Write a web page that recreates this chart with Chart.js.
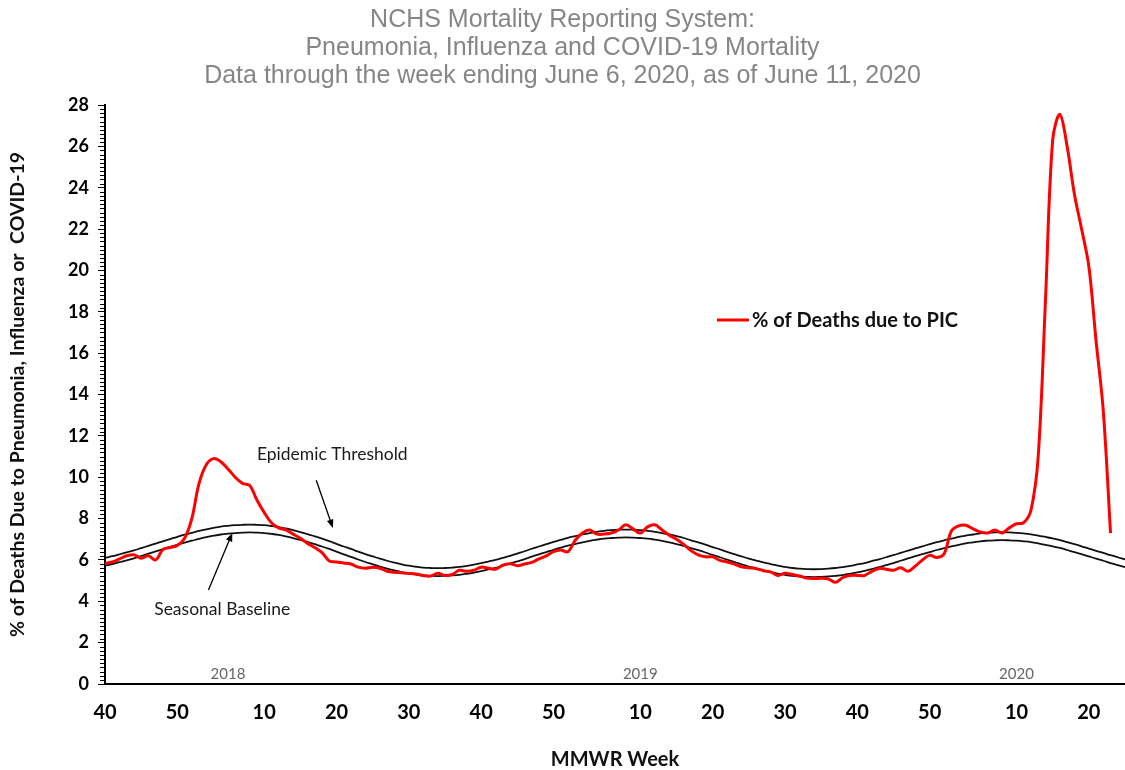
<!DOCTYPE html>
<html>
<head>
<meta charset="utf-8">
<title>NCHS Mortality Reporting System</title>
<script src="https://cdn.jsdelivr.net/npm/chart.js@4.4.0/dist/chart.umd.min.js"></script>
<style>
  html, body { margin: 0; padding: 0; background: #fff; }
  #wrap { width: 1125px; height: 770px; position: relative; }
</style>
</head>
<body>
<div id="wrap"><canvas id="picChart"></canvas></div>
<script>
// MMWR weeks shown on the axis: 2017 wk 40 .. 2020 wk 25
const seasons = [
  [2017, 40, 52],
  [2018, 1, 52],
  [2019, 1, 52],
  [2020, 1, 25]
]
const weeks = []
const weekYears = []
seasons.forEach(([yr, from, to]) => {
  for (let w = from; w <= to; w++) { weeks.push(w); weekYears.push(yr) }
})

// % of deaths due to PIC (ends 2020 wk 23)
const picPercent = [
  5.84, 5.90, 6.05, 6.20, 6.25, 6.08, 6.20, 6.00, 6.50, 6.60,
  6.70, 7.05, 8.00, 9.70, 10.60, 10.90, 10.75, 10.40, 10.00, 9.70,
  9.60, 8.90, 8.30, 7.80, 7.55, 7.45, 7.25, 7.05, 6.80, 6.60,
  6.35, 5.95, 5.90, 5.85, 5.80, 5.65, 5.60, 5.65, 5.60, 5.45,
  5.40, 5.38, 5.35, 5.32, 5.25, 5.22, 5.35, 5.25, 5.30, 5.50,
  5.45, 5.50, 5.65, 5.60, 5.55, 5.75, 5.82, 5.72, 5.80, 5.88,
  6.05, 6.20, 6.40, 6.48, 6.40, 6.95, 7.30, 7.45, 7.25, 7.25,
  7.30, 7.45, 7.70, 7.50, 7.30, 7.60, 7.70, 7.45, 7.20, 7.00,
  6.75, 6.45, 6.25, 6.15, 6.15, 5.98, 5.90, 5.80, 5.67, 5.62,
  5.58, 5.48, 5.42, 5.25, 5.35, 5.30, 5.22, 5.12, 5.10, 5.11,
  5.08, 4.92, 5.15, 5.25, 5.25, 5.25, 5.45, 5.59, 5.55, 5.50,
  5.62, 5.45, 5.70, 6.00, 6.22, 6.12, 6.30, 7.40, 7.65, 7.68,
  7.50, 7.35, 7.30, 7.45, 7.30, 7.55, 7.75, 7.80, 8.40, 11.00,
  18.50, 26.30, 27.55, 26.00, 23.70, 22.00, 20.20, 16.60, 13.20, 7.30
]

const seasonalBaseline = [
  5.72, 5.80, 5.89, 5.98, 6.08, 6.19, 6.30, 6.41, 6.52, 6.63, 6.74, 6.84, 6.93, 7.02, 7.10, 7.17, 7.23, 7.27, 7.30, 7.32, 7.33,
  7.32, 7.30, 7.26, 7.21, 7.14, 7.06, 6.97, 6.87, 6.76, 6.65, 6.53, 6.40, 6.27, 6.15, 6.02, 5.90, 5.79, 5.68, 5.58, 5.49, 5.41, 5.34, 5.29, 5.25, 5.23, 5.22,
  5.23, 5.25, 5.28, 5.33, 5.39, 5.46, 5.54, 5.62, 5.72, 5.82, 5.93, 6.04, 6.16, 6.27, 6.38, 6.49, 6.59, 6.69, 6.77, 6.85, 6.92, 6.98, 7.03, 7.06, 7.08, 7.09,
  7.08, 7.06, 7.03, 6.98, 6.92, 6.85, 6.77, 6.68, 6.57, 6.47, 6.36, 6.24, 6.13, 6.01, 5.90, 5.79, 5.68, 5.59, 5.50, 5.42, 5.34, 5.28, 5.23, 5.20, 5.18, 5.17,
  5.18, 5.20, 5.23, 5.27, 5.33, 5.40, 5.47, 5.56, 5.65, 5.75, 5.85, 5.96, 6.07, 6.18, 6.28, 6.38, 6.48, 6.57, 6.65, 6.73, 6.80, 6.85, 6.90, 6.93, 6.95, 6.96,
  6.95, 6.93, 6.90, 6.86, 6.80, 6.73, 6.66, 6.58, 6.48, 6.38, 6.28, 6.17, 6.06, 5.96, 5.85, 5.75, 5.65
]

const epidemicThreshold = [
  6.10, 6.18, 6.27, 6.36, 6.46, 6.57, 6.68, 6.79, 6.90, 7.01, 7.12, 7.22, 7.31, 7.40, 7.48, 7.55, 7.61, 7.65, 7.68, 7.70, 7.71,
  7.70, 7.68, 7.64, 7.59, 7.52, 7.44, 7.35, 7.25, 7.14, 7.03, 6.91, 6.78, 6.65, 6.53, 6.40, 6.28, 6.17, 6.06, 5.96, 5.87, 5.79, 5.72, 5.67, 5.63, 5.61, 5.60,
  5.61, 5.63, 5.66, 5.71, 5.77, 5.84, 5.92, 6.00, 6.10, 6.20, 6.31, 6.42, 6.54, 6.65, 6.76, 6.87, 6.97, 7.07, 7.15, 7.23, 7.30, 7.36, 7.41, 7.44, 7.46, 7.47,
  7.46, 7.44, 7.41, 7.36, 7.30, 7.23, 7.15, 7.06, 6.95, 6.85, 6.74, 6.62, 6.51, 6.39, 6.28, 6.17, 6.06, 5.97, 5.88, 5.80, 5.72, 5.66, 5.61, 5.58, 5.56, 5.55,
  5.56, 5.58, 5.61, 5.65, 5.71, 5.78, 5.85, 5.94, 6.03, 6.13, 6.23, 6.34, 6.45, 6.56, 6.66, 6.76, 6.86, 6.95, 7.03, 7.11, 7.18, 7.23, 7.28, 7.31, 7.33, 7.34,
  7.33, 7.31, 7.28, 7.24, 7.18, 7.11, 7.04, 6.96, 6.86, 6.76, 6.66, 6.55, 6.44, 6.34, 6.23, 6.13, 6.03
]

// year captions sit above these weeks
const yearMarkers = [[2018, 5], [2019, 10], [2020, 10]]

const titleLines = [
  'NCHS Mortality Reporting System:',
  'Pneumonia, Influenza and COVID-19 Mortality',
  'Data through the week ending June 6, 2020, as of June 11, 2020'
]

// callouts, placed in data space: [week index, value]
const callouts = [
  { text: 'Epidemic Threshold', at: [21, 11.1], tail: [29.2, 9.85], tip: [31.5, 7.55] },
  { text: 'Seasonal Baseline', at: [6.8, 3.63], tail: [14.3, 4.55], tip: [17.6, 7.3] }
]

function arrow(ctx, x1, y1, x2, y2) {
  const a = Math.atan2(y2 - y1, x2 - x1)
  const h = 9
  ctx.beginPath()
  ctx.moveTo(x1, y1)
  ctx.lineTo(x2 - Math.cos(a) * 6, y2 - Math.sin(a) * 6)
  ctx.stroke()
  ctx.beginPath()
  ctx.moveTo(x2, y2)
  ctx.lineTo(x2 - h * Math.cos(a - 0.38), y2 - h * Math.sin(a - 0.38))
  ctx.lineTo(x2 - h * Math.cos(a + 0.38), y2 - h * Math.sin(a + 0.38))
  ctx.closePath()
  ctx.fill()
}

const extras = {
  id: 'extras',
  afterDraw(chart) {
    const { ctx, chartArea } = chart
    const x = chart.scales.x
    const y = chart.scales.y
    ctx.save()

    // minor ticks on the value axis
    ctx.strokeStyle = '#000'
    ctx.lineWidth = 1
    for (let k = 0; k <= 140; k++) {
      if (k % 10 === 0) continue
      const py = Math.round(y.getPixelForValue(k / 5)) + 0.5
      ctx.beginPath()
      ctx.moveTo(chartArea.left - 5, py)
      ctx.lineTo(chartArea.left, py)
      ctx.stroke()
    }

    // year captions
    ctx.fillStyle = '#666'
    ctx.font = '15px Lato'
    ctx.textAlign = 'center'
    ctx.textBaseline = 'alphabetic'
    yearMarkers.forEach(([yr, wk]) => {
      const idx = weekYears.findIndex((v, i) => v === yr && weeks[i] === wk)
      ctx.fillText(String(yr), x.getPixelForValue(idx), chartArea.bottom - 5)
    })

    // legend
    const lx = chartArea.left + 612
    const ly = chartArea.top + 215
    ctx.strokeStyle = '#ff0000'
    ctx.lineWidth = 3
    ctx.beginPath()
    ctx.moveTo(lx, ly)
    ctx.lineTo(lx + 32, ly)
    ctx.stroke()
    ctx.fillStyle = '#111'
    ctx.font = 'bold 20px Lato'
    ctx.textAlign = 'left'
    ctx.textBaseline = 'middle'
    ctx.fillText('% of Deaths due to PIC', lx + 35, ly + 1)

    // callouts with arrows
    ctx.font = '17.5px Lato'
    ctx.strokeStyle = '#000'
    callouts.forEach(c => {
      ctx.fillStyle = '#1a1a1a'
      ctx.fillText(c.text, x.getPixelForValue(c.at[0]), y.getPixelForValue(c.at[1]))
      ctx.lineWidth = 1.3
      ctx.fillStyle = '#000'
      arrow(ctx,
        x.getPixelForValue(c.tail[0]), y.getPixelForValue(c.tail[1]),
        x.getPixelForValue(c.tip[0]), y.getPixelForValue(c.tip[1]))
    })
    ctx.restore()
  }
}

const lineStyle = { pointRadius: 0, pointHoverRadius: 0, fill: false }

new Chart(document.getElementById('picChart'), {
  type: 'line',
  data: {
    labels: weeks,
    datasets: [
      { ...lineStyle, label: '% of Deaths due to PIC', data: picPercent, borderColor: '#ff0000', borderWidth: 3, tension: 0.35 },
      { ...lineStyle, label: 'Epidemic Threshold', data: epidemicThreshold, borderColor: '#111', borderWidth: 1.8, tension: 0.4 },
      { ...lineStyle, label: 'Seasonal Baseline', data: seasonalBaseline, borderColor: '#111', borderWidth: 1.8, tension: 0.4 }
    ]
  },
  options: {
    responsive: true,
    maintainAspectRatio: false,
    animation: false,
    layout: { padding: { left: 0, right: 0, top: 0, bottom: 0 } },
    plugins: {
      legend: { display: false },
      tooltip: { enabled: false },
      title: {
        display: true,
        text: titleLines,
        color: '#868686',
        font: { family: 'Liberation Sans', size: 25, weight: 'normal', lineHeight: 1.12 },
        padding: { top: 6, bottom: 15 }
      }
    },
    scales: {
      x: {
        afterFit: s => { s.height = 86 },
        border: { color: '#000', width: 2 },
        grid: { display: true, drawOnChartArea: false, drawTicks: false },
        ticks: {
          autoSkip: false,
          maxRotation: 0,
          padding: 17,
          color: '#000',
          font: { family: 'Lato', size: 20, weight: 'bold' },
          callback: (val, i) => (weeks[i] % 10 === 0 ? String(weeks[i]) : null)
        },
        title: {
          display: true,
          text: 'MMWR Week',
          color: '#111',
          font: { family: 'Lato', size: 20, weight: 'bold', lineHeight: 1 },
          padding: { top: 0, bottom: 0 }
        }
      },
      y: {
        min: 0,
        max: 28,
        afterFit: s => { s.width = 105 },
        border: { color: '#000', width: 2 },
        grid: { drawOnChartArea: false, drawTicks: true, tickLength: 7, color: '#000' },
        ticks: {
          stepSize: 2,
          padding: 9,
          color: '#000',
          font: { family: 'Lato', size: 18, weight: 'bold' }
        },
        title: {
          display: true,
          text: '% of Deaths Due to Pneumonia, Influenza or  COVID-19',
          color: '#111',
          font: { family: 'Lato', size: 19.5, weight: 'bold' },
          padding: { top: 6, bottom: 0 }
        }
      }
    }
  },
  plugins: [extras]
})
</script>
</body>
</html>
